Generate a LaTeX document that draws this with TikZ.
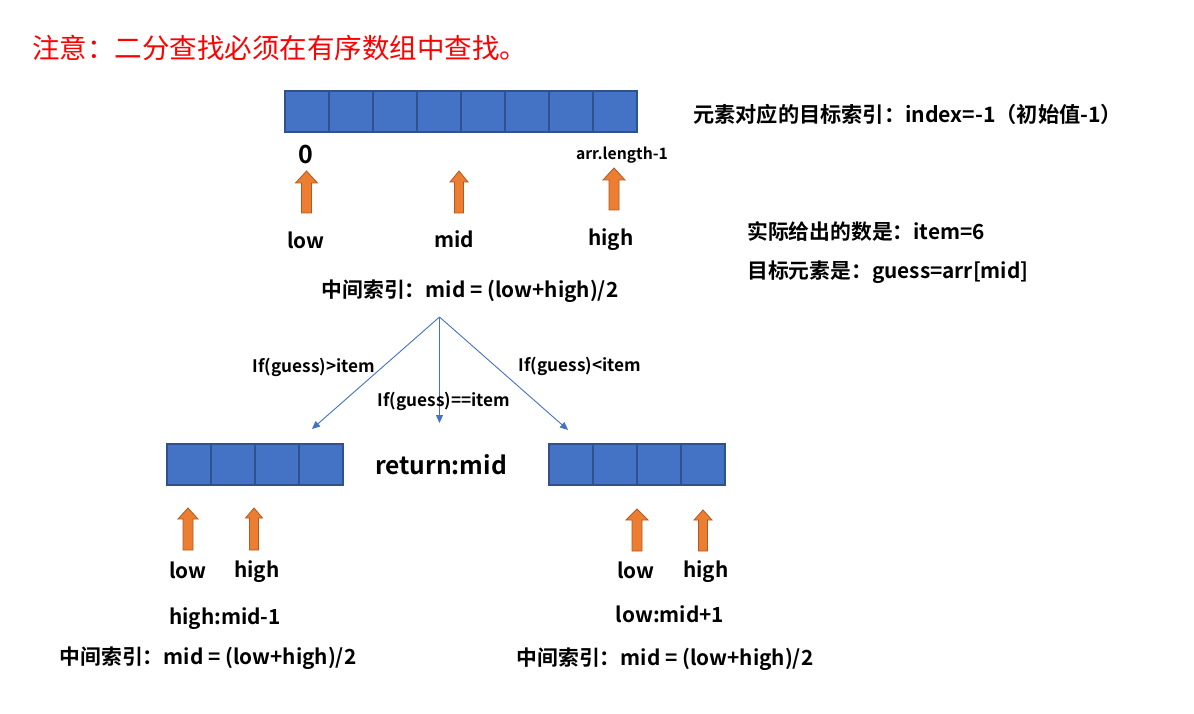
\documentclass[tikz,border=0pt]{standalone}
\usepackage{fontspec}
\setmainfont{Noto Sans CJK SC}[BoldFont={* Bold}]
\usetikzlibrary{arrows.meta}
\definecolor{cellfill}{HTML}{4472C4}
\definecolor{celldraw}{HTML}{2F528F}
\definecolor{orfill}{HTML}{ED7D31}
\definecolor{ordraw}{HTML}{AE5A21}
\definecolor{titlered}{HTML}{FF0000}
\tikzset{
  cell/.style={draw=celldraw, fill=cellfill, line width=1.6pt, minimum width=44pt, minimum height=41pt, inner sep=0pt},
  lbl/.style={font=\bfseries\fontsize{20.8}{22}\selectfont, inner sep=0pt},
  cond/.style={font=\bfseries\fontsize{17.2}{18}\selectfont, inner sep=0pt},
  branch/.style={draw=cellfill, line width=0.9pt, -{Triangle[length=8pt,width=7pt]}},
  blk/.style={fill=orfill, draw=ordraw, line width=0.8pt, line join=miter}
}
% block up arrow: center x, top y, bottom y, head half-width, shaft half-width, head length
\newcommand\blockup[6]{%
  \path[blk] (#1-#5,#3) -- (#1-#5,#2+#6) -- (#1-#4,#2+#6) -- (#1,#2) -- (#1+#4,#2+#6) -- (#1+#5,#2+#6) -- (#1+#5,#3) -- cycle;}
\begin{document}
\begin{tikzpicture}[x=1pt,y=-1pt]
\useasboundingbox[fill=white] (0,0) rectangle (1194,714);
% title
\node[anchor=west, inner sep=0pt, text=titlered, font=\fontsize{27.5}{29}\selectfont] (title) at (32,48) {注意：二分查找必须在有序数组中查找。};
% top array
\foreach \i in {0,...,7} {
  \node[cell] (t\i) at ({307+44*\i},111.5) {};
}
\node[lbl, font=\bfseries\fontsize{25}{26}\selectfont] (zero) at (306,154) {0};
\node[inner sep=0pt, font=\bfseries\fontsize{15.7}{17}\selectfont] (alen) at (622,155) {arr.length-1};
\blockup{306.5}{171}{213}{11}{5}{12}
\blockup{459}{171}{213}{9}{4.5}{11}
\blockup{614}{168}{210}{11}{5}{12}
\node[lbl] (low0) at (306,240) {low};
\node[lbl] (mid0) at (454,239) {mid};
\node[lbl] (high0) at (611,240) {high};
% right notes
\node[lbl, anchor=west, font=\bfseries\fontsize{21.2}{23}\selectfont] (idx) at (693,114) {元素对应的目标索引：index=-1（初始值-1）};
\node[lbl, anchor=west] (item) at (747,232) {实际给出的数是：item=6};
\node[lbl, anchor=west] (guess) at (747,272) {目标元素是：guess=arr[mid]};
% mid formula
\node[lbl] (formula) at (470,291) {中间索引：mid = (low+high)/2};
% branches
\coordinate (split) at (439.5,317);
\coordinate (eL) at (312,429);
\coordinate (eM) at (439.5,423);
\coordinate (eR) at (568,430);
\draw[branch] (split) -- (eL);
\draw[branch] (split) -- (eM);
\draw[branch] (split) -- (eR);
\node[cond] (cL) at (314,367) {If(guess)>item};
\node[cond] (cR) at (580,366) {If(guess)<item};
\node[cond] (cM) at (444,401) {If(guess)==item};
% left array
\foreach \i in {0,...,3} {
  \node[cell] (l\i) at ({189+44*\i},464.5) {};
}
\node[lbl, font=\bfseries\fontsize{24.6}{26}\selectfont] (ret) at (441,465) {return:mid};
% right array
\foreach \i in {0,...,3} {
  \node[cell] (r\i) at ({571+44*\i},464.5) {};
}
% left arrows
\blockup{188}{508}{550}{10}{5}{11}
\blockup{254}{508}{550}{8.5}{4.5}{10}
\node[lbl] (lowL) at (188,570) {low};
\node[lbl] (highL) at (257,572) {high};
\node[lbl] (hm) at (225,619) {high:mid-1};
\node[lbl] (fL) at (208,658) {中间索引：mid = (low+high)/2};
% right arrows
\blockup{637}{509}{551}{11}{5}{11}
\blockup{703}{510}{551}{9}{4.5}{10}
\node[lbl] (lowR) at (636,570) {low};
\node[lbl] (highR) at (706,572) {high};
\node[lbl] (lm) at (670,614) {low:mid+1};
\node[lbl] (fR) at (665,659) {中间索引：mid = (low+high)/2};
\end{tikzpicture}
\end{document}
